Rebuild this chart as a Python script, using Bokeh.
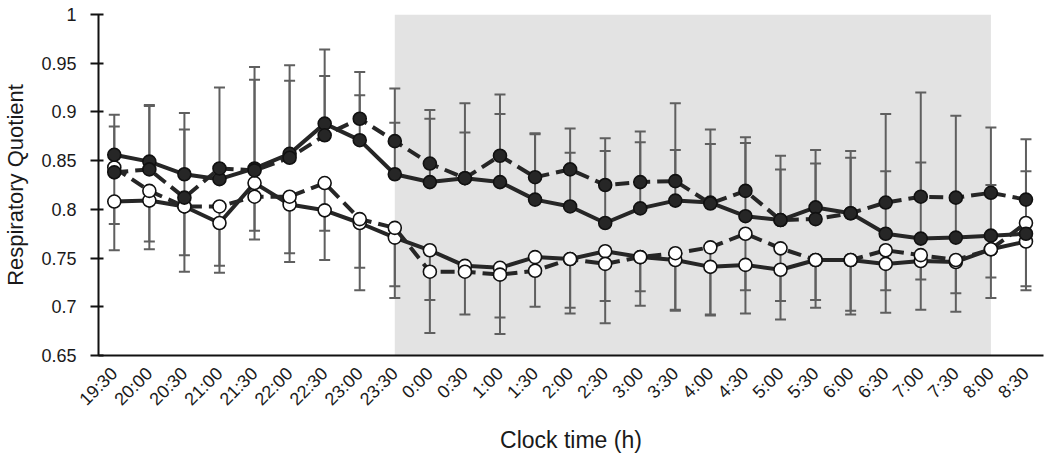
import math
from bokeh.plotting import figure
from bokeh.models import (ColumnDataSource, Range1d, FixedTicker, Whisker, TeeHead,
                          BoxAnnotation, CustomJSTickFormatter)
from bokeh.embed import file_html
from bokeh.resources import INLINE

times = ["19:30", "20:00", "20:30", "21:00", "21:30", "22:00", "22:30", "23:00", "23:30",
         "0:00", "0:30", "1:00", "1:30", "2:00", "2:30", "3:00", "3:30", "4:00", "4:30",
         "5:00", "5:30", "6:00", "6:30", "7:00", "7:30", "8:00", "8:30"]
night_start = "23:30"
night_end = "8:00"

# solid line, black markers
solid_black = [0.856, 0.849, 0.836, 0.831, 0.842, 0.857, 0.888, 0.871, 0.836,
               0.828, 0.832, 0.828, 0.810, 0.803, 0.786, 0.801, 0.809, 0.807, 0.793,
               0.789, 0.802, 0.796, 0.775, 0.770, 0.771, 0.773, 0.775]
solid_black_err = [0.041, 0.058, 0.063, 0.011, 0.104, 0.091, 0.076, 0.046, 0.053,
                   0.065, 0.077, 0.070, 0.067, 0.055, 0.074, 0.068, 0.052, 0.075, 0.075,
                   0.066, 0.059, 0.064, 0.064, 0.078, 0.041, 0.052, 0.064]
# dashed line, black markers
dashed_black = [0.838, 0.841, 0.812, 0.842, 0.840, 0.853, 0.876, 0.893, 0.870,
                0.847, 0.832, 0.855, 0.833, 0.841, 0.825, 0.828, 0.829, 0.806, 0.819,
                0.789, 0.790, 0.796, 0.807, 0.813, 0.812, 0.817, 0.810]
dashed_black_err = [0.047, 0.065, 0.070, 0.083, 0.093, 0.079, 0.061, 0.048, 0.054,
                    0.055, 0.047, 0.063, 0.045, 0.042, 0.048, 0.052, 0.080, 0.061, 0.055,
                    0.052, 0.057, 0.057, 0.091, 0.107, 0.084, 0.067, 0.062]
# solid line, white markers
solid_white = [0.808, 0.809, 0.803, 0.786, 0.827, 0.805, 0.799, 0.786, 0.771,
               0.758, 0.742, 0.740, 0.751, 0.749, 0.757, 0.751, 0.748, 0.741, 0.743,
               0.738, 0.748, 0.748, 0.744, 0.747, 0.746, 0.759, 0.767]
solid_white_err = [0.050, 0.050, 0.067, 0.051, 0.049, 0.059, 0.051, 0.069, 0.062,
                   0.051, 0.006, 0.051, 0.014, 0.056, 0.051, 0.050, 0.052, 0.050, 0.050,
                   0.051, 0.049, 0.056, 0.050, 0.050, 0.051, 0.050, 0.050]
# dashed line, white markers
dashed_white = [0.843, 0.819, 0.803, 0.803, 0.813, 0.813, 0.827, 0.790, 0.781,
                0.736, 0.736, 0.733, 0.737, 0.749, 0.744, 0.751, 0.755, 0.761, 0.775,
                0.760, 0.748, 0.748, 0.758, 0.753, 0.748, 0.759, 0.786]
dashed_white_err = [0.058, 0.052, 0.050, 0.061, 0.044, 0.058, 0.049, 0.050, 0.060,
                    0.063, 0.044, 0.061, 0.037, 0.050, 0.061, 0.035, 0.058, 0.069, 0.058,
                    0.054, 0.041, 0.052, 0.041, 0.025, 0.034, 0.029, 0.065]

y_ticks = [0.65, 0.70, 0.75, 0.80, 0.85, 0.90, 0.95, 1.00]

x = list(range(len(times)))

p = figure(width=1046, height=458, output_backend="svg", toolbar_location=None,
           x_range=Range1d(-0.45, len(times) - 0.5), y_range=Range1d(0.65, 1.0),
           min_border_left=95, min_border_right=3, min_border_top=14, min_border_bottom=103)
p.outline_line_color = None
p.xgrid.visible = False
p.ygrid.visible = False
p.background_fill_color = "white"

# night shading
p.add_layout(BoxAnnotation(left=times.index(night_start), right=times.index(night_end),
                           fill_color="#e3e3e3", fill_alpha=1.0, line_alpha=0,
                           level="underlay"))

ERR_COLOR = "#5f5f5f"

def whisk(vals, errs, up):
    if up:
        src = ColumnDataSource(dict(x=x, lo=vals, hi=[v + e for v, e in zip(vals, errs)]))
    else:
        src = ColumnDataSource(dict(x=x, lo=[v - e for v, e in zip(vals, errs)], hi=vals))
    head = TeeHead(size=11, line_color=ERR_COLOR, line_width=2)
    w = Whisker(source=src, base="x", upper="hi", lower="lo",
                line_color=ERR_COLOR, line_width=2, level="underlay",
                upper_head=head if up else None, lower_head=None if up else head)
    p.add_layout(w)

whisk(solid_white, solid_white_err, False)
whisk(dashed_white, dashed_white_err, False)
whisk(solid_black, solid_black_err, True)
whisk(dashed_black, dashed_black_err, True)

LINE = "#262626"
series = [
    (solid_white, "solid", "white"),
    (dashed_white, "dashed", "white"),
    (solid_black, "solid", "#262626"),
    (dashed_black, "dashed", "#262626"),
]
for vals, style, fill in series:
    dash = "solid" if style == "solid" else "14 7"
    p.line(x, vals, line_color=LINE, line_width=4, line_dash=dash)
    p.scatter(x, vals, size=13, marker="circle", fill_color=fill,
              line_color="#111111", line_width=1.6)

# axes
xa = p.xaxis[0]
xa.ticker = FixedTicker(ticks=x)
xa.major_label_overrides = {i: t for i, t in enumerate(times)}
xa.major_label_orientation = math.pi / 4
xa.major_tick_out = 0
xa.major_tick_in = 0
xa.minor_tick_out = 0
xa.minor_tick_in = 0
xa.major_label_standoff = 15
xa.axis_line_width = 2
xa.axis_line_color = "#111111"
xa.major_label_text_font = "Liberation Sans"
xa.major_label_text_font_size = "18px"
xa.major_label_text_color = "#1a1a1a"
xa.axis_label = "Clock time (h)"
xa.axis_label_text_font = "Liberation Sans"
xa.axis_label_text_font_size = "23px"
xa.axis_label_text_font_style = "normal"
xa.axis_label_text_color = "#1a1a1a"
xa.axis_label_standoff = 8

ya = p.yaxis[0]
ya.ticker = FixedTicker(ticks=y_ticks)
ya.formatter = CustomJSTickFormatter(code="return String(Math.round(tick*100)/100);")
ya.major_tick_out = 8
ya.major_tick_in = 5
ya.major_tick_line_width = 2
ya.major_tick_line_color = "#111111"
ya.minor_tick_out = 0
ya.minor_tick_in = 0
ya.major_label_standoff = 14
ya.axis_line_width = 2
ya.axis_line_color = "#111111"
ya.major_label_text_font = "Liberation Sans"
ya.major_label_text_font_size = "18px"
ya.major_label_text_color = "#1a1a1a"
ya.axis_label = "Respiratory Quotient"
ya.axis_label_text_font = "Liberation Sans"
ya.axis_label_text_font_size = "22px"
ya.axis_label_text_font_style = "normal"
ya.axis_label_text_color = "#1a1a1a"
ya.axis_label_standoff = 10

open("out.html", "w").write(file_html(p, INLINE))
